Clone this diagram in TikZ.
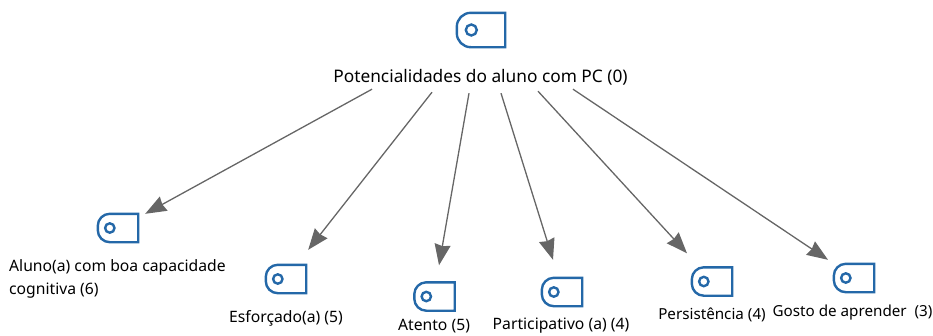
\documentclass[tikz,border=0pt]{standalone}
\usepackage{fontspec}
\setmainfont{Noto Sans}
\usetikzlibrary{arrows.meta, positioning}
\definecolor{tagblue}{HTML}{2468A8}
\definecolor{arrowgray}{HTML}{666666}
\tikzstyle{tag} = [rectangle, 
minimum width=40pt, 
minimum height=28pt, 
inner sep=0pt]
\tikzstyle{bigtag} = [tag, 
minimum width=48pt, 
minimum height=34pt]
\tikzstyle{tagline} = [draw=tagblue, line width=2.4pt]
\tikzstyle{label} = [inner sep=0pt, 
font=\fontsize{15.7}{23}\selectfont, 
text=black, 
align=left]
\tikzstyle{toplabelstyle} = [label, 
font=\fontsize{17.3}{23}\selectfont]
\tikzstyle{arrow} = [draw=arrowgray, line width=1.3pt, 
-{Stealth[length=21pt, width=16pt, inset=1.5pt]}]
% tag outline with its hole, drawn over a named node
\newcommand{\tagicon}[4]{
\draw [tagline] (#1.north east) -- (#1.south east) -- ([xshift=#2pt]#1.south west)
 arc [start angle=270, end angle=180, radius=#2pt]
 -- ([yshift=-#2pt]#1.north west)
 arc [start angle=180, end angle=90, radius=#2pt] -- cycle;
\draw [tagline] ([xshift=#3pt]#1.west) circle [radius=#4pt];
}

\begin{document}
\begin{tikzpicture}[x=1pt, y=1pt]
\useasboundingbox (0,0) rectangle (933,-335);

\node (top) [bigtag] at (481,-30) {};
\node (toplabel) [toplabelstyle, minimum height=26pt] at (480.5,-77) {Potencialidades do aluno com PC (0)};

\node (aluno) [tag] at (118,-228) {};
\node (alunolabel) [label, anchor=north west] at (9,-259) {Aluno(a) com boa capacidade \\ cognitiva (6)};
\node (esforcado) [tag] at (286,-279) {};
\node (esforcadolabel) [label] at (286,-318) {Esforçado(a) (5)};
\node (atento) [tag] at (434.5,-296.5) {};
\node (atentolabel) [label] at (434,-326.5) {Atento (5)};
\node (participativo) [tag] at (562,-292) {};
\node (participativolabel) [label] at (561,-325.5) {Participativo (a) (4)};
\node (persistencia) [tag] at (712,-281.5) {};
\node (persistencialabel) [label, font=\fontsize{15.2}{23}\selectfont] at (712,-315) {Persistência (4)};
\node (gosto) [tag] at (854,-278) {};
\node (gostolabel) [label, font=\fontsize{15.2}{23}\selectfont] at (852.5,-312.5) {Gosto de aprender ~(3)};

\tagicon{top}{14}{14.5}{5.5}
\tagicon{aluno}{12}{12}{4.7}
\tagicon{esforcado}{12}{12}{4.7}
\tagicon{atento}{12}{12}{4.7}
\tagicon{participativo}{12}{12}{4.7}
\tagicon{persistencia}{12}{12}{4.7}
\tagicon{gosto}{12}{12}{4.7}

\draw [arrow] ([xshift=-108.5pt,yshift=1pt]toplabel.south) -- ([xshift=7pt]aluno.north east);
\draw [arrow] ([xshift=-48.5pt,yshift=-2pt]toplabel.south) -- ([xshift=2pt,yshift=15pt]esforcado.north east);
\draw [arrow] ([xshift=-11.5pt,yshift=-3pt]toplabel.south) -- ([xshift=4.5pt,yshift=17pt]atento.north);
\draw [arrow] ([xshift=20.5pt,yshift=-3pt]toplabel.south) -- ([xshift=-9pt,yshift=18pt]participativo.north);
\draw [arrow] ([xshift=57.5pt,yshift=-1pt]toplabel.south) -- ([xshift=-25pt,yshift=14pt]persistencia.north);
\draw [arrow] ([xshift=92.5pt,yshift=1pt]toplabel.south) -- ([xshift=-26pt,yshift=4pt]gosto.north);

\end{tikzpicture}
\end{document}
